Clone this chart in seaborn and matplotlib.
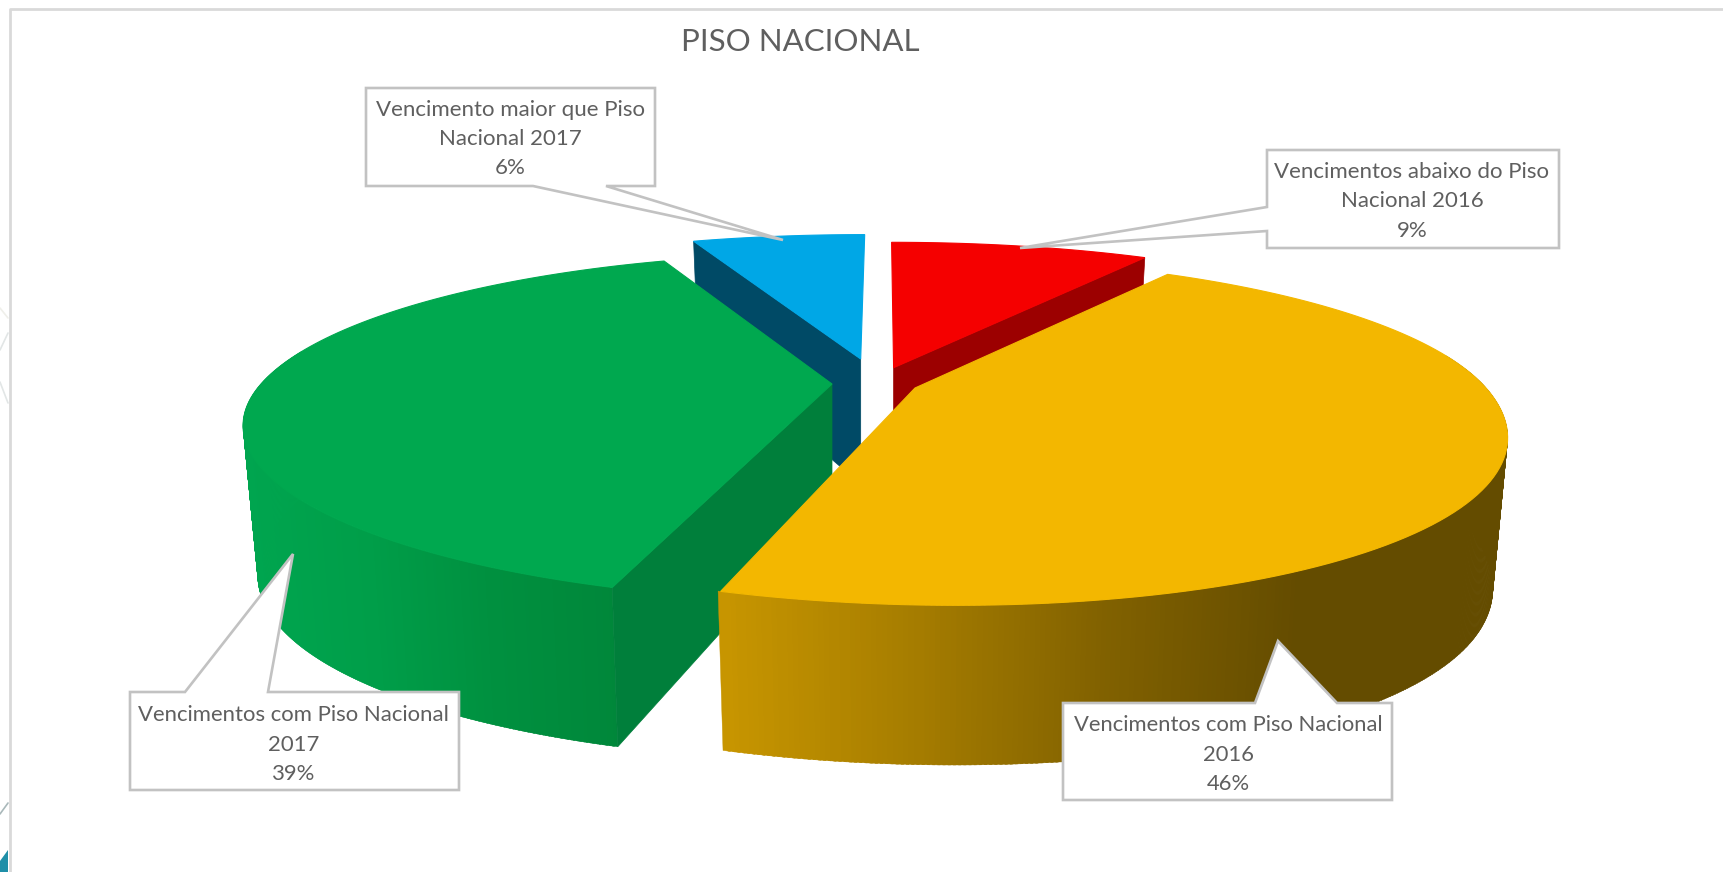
import numpy as np
import seaborn as sns
import matplotlib
matplotlib.use("Agg")
import matplotlib.pyplot as plt
from matplotlib.patches import Polygon

# chart values, clockwise from 12 o'clock
labels = ["Vencimentos abaixo do Piso\nNacional 2016",
          "Vencimentos com Piso Nacional\n2016",
          "Vencimentos com Piso Nacional\n2017",
          "Vencimento maior que Piso\nNacional 2017"]
values = [9, 46, 39, 6]
top_colors = ["#F50000", "#F3B700", "#00A84F", "#00A7E6"]
cut_colors = ["#9C0000", "#9C7500", "#007F3B", "#004A66"]
title = "PISO NACIONAL"

sns.set_theme(style="white")
plt.rcParams["font.family"] = ["Lato", "DejaVu Sans"]
GREY_TEXT = "#5F5F5F"
GREY_LINE = "#C2C2C2"

# projection of the tilted pie, in pixels
RX, RY, K = 571, 163, 0.25
apex = [(893.6, 367.7), (915, 388), (832, 384), (860.7, 359)]
skew = [0, 41, 13, 0]
back_dx = [-2, 0, 3, 4]
back_dy = [5, 0, 0, 6]


def top_pt(i, theta):
    t = np.radians(theta)
    u, v = np.sin(t), np.cos(t)
    s = 1 / (1 + K * v)
    back = np.maximum(v, 0) ** 2
    x = apex[i][0] + RX * u * s + skew[i] * np.minimum(v, 0) ** 2 + back_dx[i] * back
    y = apex[i][1] - RY * v * s + back_dy[i] * back
    return x, y


def bottom_pt(i, theta):
    t = np.radians(theta)
    u, v = np.sin(t), np.cos(t)
    s = 1 / (1 + K * v)
    x, y = top_pt(i, theta)
    depth = 125 * s + 18 * u * u - 7 * np.minimum(v, 0) ** 2
    return apex[i][0] + (x - apex[i][0]) * 0.975, y + depth


def cut_face(i, theta):
    ax0, ay0 = apex[i]
    return [(ax0, ay0), top_pt(i, theta), bottom_pt(i, theta), (ax0, ay0 + 125)]


def draw_wall(ax, i, t0, t1, xs, palette):
    # small quads with a horizontal colour ramp
    grid = np.linspace(t0, t1, 300)
    for a, b in zip(grid[:-1], grid[1:]):
        xm = top_pt(i, (a + b) / 2)[0]
        f = np.clip((xm - xs[0]) / (xs[1] - xs[0]), 0, 1)
        col = palette[int(f * (len(palette) - 1))]
        quad = [top_pt(i, a), top_pt(i, b + 0.2), bottom_pt(i, b + 0.2), bottom_pt(i, a)]
        ax.add_patch(Polygon(quad, closed=True, fc=col, ec=col, lw=0.3, zorder=i_z[i]))


def draw_top(ax, i, t0, t1):
    grid = np.linspace(t0, t1, 120)
    pts = [apex[i]] + [top_pt(i, a) for a in grid]
    ax.add_patch(Polygon(pts, closed=True, fc=top_colors[i], ec=top_colors[i], lw=0.8, zorder=i_z[i] + 0.5))


def callout(ax, pts, text_x, text_y, lines, size=16):
    ax.add_patch(Polygon(pts, closed=True, fc="white", ec=GREY_LINE, lw=1.9, joinstyle="miter", zorder=20))
    for yy, line in zip(text_y, lines):
        ax.text(text_x, yy, line, ha="center", va="center", fontsize=size, color=GREY_TEXT, zorder=21)


fig = plt.figure(figsize=(17.23, 8.72), dpi=100)
ax = fig.add_axes([0, 0, 1, 1])
ax.set_xlim(0, 1723)
ax.set_ylim(872, 0)
ax.axis("off")

edges = np.cumsum([0] + values) * 3.6
i_z = {3: 2, 0: 3, 2: 4, 1: 5}  # paint order: blue, red, green, yellow

green_ramp = sns.blend_palette(["#00A54F", "#009E49", "#00903F", "#00873A"], 200)
yellow_ramp = sns.blend_palette(["#C89600", "#A67D00", "#816100", "#644C00"], 200)

# blue
ax.add_patch(Polygon(cut_face(3, edges[3]), closed=True, fc=cut_colors[3], ec=cut_colors[3], lw=0.5, zorder=i_z[3]))
draw_top(ax, 3, edges[3], edges[4])
# red
ax.add_patch(Polygon(cut_face(0, edges[1]), closed=True, fc=cut_colors[0], ec=cut_colors[0], lw=0.5, zorder=i_z[0]))
draw_top(ax, 0, edges[0], edges[1])
# green
draw_wall(ax, 2, edges[2], 282, (241, 615), green_ramp)
ax.add_patch(Polygon(cut_face(2, edges[2]), closed=True, fc=cut_colors[2], ec=cut_colors[2], lw=0.5, zorder=i_z[2] + 0.2))
draw_top(ax, 2, edges[2], edges[3])
# yellow
draw_wall(ax, 1, 78, edges[2], (1303, 720), yellow_ramp[::-1])
draw_top(ax, 1, edges[1], edges[2])

# frame of the slide and the bits of its background left of it
ax.plot([9.5, 9.5, 1723], [872, 9.5, 9.5], color="#D9D9D9", lw=2, zorder=1)
ax.plot([0, 8], [308, 318], color="#EFEFEA", lw=1.2, zorder=1)
ax.plot([0, 8], [350, 333], color="#E2E6E6", lw=1.2, zorder=1)
ax.plot([0, 8], [382, 403], color="#E2E6E6", lw=1.2, zorder=1)
ax.plot([0, 8], [814, 803], color="#A9B8BA", lw=1.2, zorder=1)
ax.add_patch(Polygon([(0, 861), (8, 850), (8, 872), (0, 872)], closed=True, fc="#1F8FA8", ec="none", zorder=1))

ax.text(800, 42, title, ha="center", va="center", fontsize=22.5, color=GREY_TEXT)

# callouts: box corners plus the tail towards the slice
pct = [f"{v}%" for v in values]
callout(ax, [(1267, 150), (1559, 150), (1559, 248), (1267, 248), (1267, 231), (1020, 248), (1267, 207)],
        1412, [172, 201, 231], labels[0].split("\n") + [pct[0]])
callout(ax, [(1063, 703), (1255, 703), (1278, 641), (1337, 703), (1392, 703), (1392, 800), (1063, 800)],
        1228, [725, 755, 784], labels[1].split("\n") + [pct[1]], size=15.8)
callout(ax, [(130, 692), (185, 692), (293, 554), (268, 692), (459, 692), (459, 790), (130, 790)],
        293.5, [715, 745, 774], labels[2].split("\n") + [pct[2]], size=15.9)
callout(ax, [(366, 88), (655, 88), (655, 186), (606, 186), (783, 240), (533, 186), (366, 186)],
        510, [110, 139, 168], labels[3].split("\n") + [pct[3]])

fig.savefig("out.png", dpi=100)
